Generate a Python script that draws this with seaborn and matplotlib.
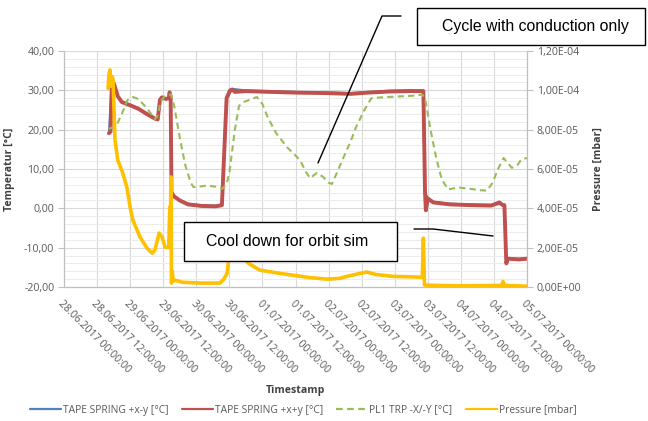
import pandas as pd
import numpy as np
import matplotlib
matplotlib.use('Agg')
import matplotlib.pyplot as plt
from matplotlib.ticker import MultipleLocator, FixedLocator
from matplotlib.patches import Rectangle
from matplotlib.lines import Line2D
import seaborn as sns

sns.set_theme(style='white')
plt.rcParams['font.family'] = ['Open Sans', 'DejaVu Sans']

# --- data (hours since 28.06.2017 00:00) ---
red_hours = [16.3, 16.9, 17.4, 18.2, 19.5, 21.0, 24.0, 27.0, 30.0, 33.0, 34.0, 34.8,
             35.5, 37.0, 38.0, 38.3, 38.7, 39.0, 40.0, 42.0, 45.0, 50.0, 55.0, 57.3,
             58.0, 59.0, 60.2, 61.0, 62.0, 66.0, 75.0, 85.0, 95.0, 104.0, 110.0, 118.0,
             125.0, 130.4, 131.0, 131.3, 132.0, 134.0, 140.0, 148.0, 155.0, 158.0, 159.0,
             159.8, 160.5, 161.0, 165.0, 168.0]
red_temp = [19.1, 19.5, 32.6, 31.5, 28.5, 27.0, 26.2, 25.3, 24.0, 22.8, 22.6, 27.5,
            28.2, 27.8, 28.0, 29.5, 28.5, 4.0, 3.0, 2.0, 1.0, 0.6, 0.5, 0.8,
            12.0, 28.0, 29.8, 30.2, 29.6, 29.8, 29.6, 29.4, 29.3, 29.1, 29.4, 29.7,
            29.8, 29.8, 4.0, -0.5, 2.5, 1.5, 1.0, 0.8, 0.7, 1.5, 0.9,
            0.8, -14.0, -12.8, -13.0, -12.8]

blue_hours = [16.3, 17.3, 18.2, 19.5, 21.0, 24.0, 27.0, 30.0, 33.0, 34.0, 34.7,
              35.5, 37.0, 38.0, 38.6, 38.9, 40.0, 42.0, 45.0, 50.0, 55.0, 57.2,
              58.0, 59.0, 60.0, 61.0, 66.0, 75.0, 85.0, 95.0, 104.0, 110.0, 118.0,
              125.0, 130.3, 130.9, 132.0, 134.0, 140.0, 148.0, 155.0, 159.0,
              159.7, 160.4, 161.0, 165.0, 168.0]
blue_temp = [19.3, 32.4, 31.3, 28.6, 27.2, 26.4, 25.5, 24.2, 23.0, 22.8, 27.8,
             28.4, 28.0, 28.2, 29.2, 4.2, 3.2, 2.2, 1.2, 0.8, 0.7, 1.0,
             12.5, 28.5, 30.2, 30.4, 30.0, 29.8, 29.6, 29.5, 29.3, 29.6, 29.9,
             30.0, 30.0, 4.2, 2.7, 1.7, 1.2, 1.0, 0.9, 1.1,
             1.0, -13.5, -12.6, -12.8, -12.6]

green_hours = [16.3, 19.0, 21.0, 23.0, 25.0, 27.0, 30.0, 33.0, 34.0, 35.0, 36.5, 38.8,
               40.0, 42.0, 44.0, 46.0, 47.0, 50.0, 52.0, 55.0, 57.5, 59.0, 60.0, 62.0,
               63.5, 65.0, 67.0, 70.0, 72.0, 74.0, 77.0, 81.0, 85.6, 88.0, 89.3, 91.8,
               94.0, 96.0, 97.2, 99.0, 101.0, 104.0, 106.0, 109.0, 111.5, 115.0, 120.0,
               126.0, 130.0, 131.0, 133.0, 135.0, 137.0, 139.3, 143.0, 147.0, 151.0,
               153.5, 155.5, 157.5, 159.5, 161.0, 162.5, 164.5, 166.0, 168.0]
green_temp = [20.2, 21.0, 24.0, 27.5, 28.3, 27.8, 25.5, 22.7, 23.5, 27.0, 28.5, 29.0,
              26.0, 18.0, 11.0, 6.5, 5.4, 5.6, 5.8, 5.5, 5.0, 6.2, 9.0, 20.0,
              26.0, 27.0, 27.5, 28.3, 26.5, 23.0, 19.1, 15.5, 12.3, 9.0, 7.7, 9.0,
              8.0, 6.5, 6.2, 9.0, 12.3, 17.0, 20.7, 25.0, 28.0, 28.2, 28.4,
              28.6, 28.9, 28.0, 20.0, 13.0, 7.5, 4.8, 5.3, 5.0, 4.6,
              4.5, 6.5, 10.0, 12.8, 11.5, 10.3, 11.0, 12.5, 12.8]

pressure_hours = [16.0, 16.3, 16.7, 17.0, 17.5, 17.8, 18.5, 19.5, 21.3, 22.8, 24.0, 25.0,
                  27.6, 30.1, 32.0, 33.0, 34.5, 35.6, 36.7, 38.0, 38.4, 38.6, 38.8, 39.0,
                  39.3, 39.6, 40.5, 43.0, 50.0, 56.6, 58.0, 59.2, 60.0, 62.0, 65.0, 67.0,
                  71.0, 78.0, 83.0, 89.0, 95.4, 100.0, 102.7, 107.0, 110.0, 113.0, 119.4,
                  125.0, 130.0, 130.4, 130.8, 135.0, 145.0, 158.8, 159.3, 159.8, 168.0]
pressure_mbar = [1.010e-4, 1.080e-4, 1.104e-4, 1.020e-4, 1.070e-4, 1.052e-4, 0.748e-4,
                 0.646e-4, 0.580e-4, 0.508e-4, 0.406e-4, 0.340e-4, 0.254e-4, 0.198e-4,
                 0.172e-4, 0.188e-4, 0.274e-4, 0.254e-4, 0.202e-4, 0.202e-4, 0.406e-4,
                 0.300e-4, 0.560e-4, 0.020e-4, 0.080e-4, 0.030e-4, 0.034e-4, 0.024e-4,
                 0.020e-4, 0.020e-4, 0.040e-4, 0.070e-4, 0.172e-4, 0.200e-4, 0.150e-4,
                 0.120e-4, 0.086e-4, 0.070e-4, 0.060e-4, 0.048e-4, 0.040e-4, 0.044e-4,
                 0.054e-4, 0.068e-4, 0.076e-4, 0.064e-4, 0.054e-4, 0.052e-4, 0.050e-4,
                 0.248e-4, 0.010e-4, 0.008e-4, 0.006e-4, 0.008e-4, 0.028e-4, 0.008e-4,
                 0.004e-4]

series_names = ['TAPE SPRING +x-y [°C]', 'TAPE SPRING +x+y [°C]',
                'PL1 TRP -X/-Y [°C]', 'Pressure [mbar]']
colors = ['#4F81BD', '#C0504D', '#9BBB59', '#FFC000']

t0 = pd.Timestamp('2017-06-28 00:00:00')


def to_time(hours):
    return t0 + pd.to_timedelta(hours, unit='h')


W, H = 648, 421
fig = plt.figure(figsize=(W / 100, H / 100), dpi=100)
ax = fig.add_axes([64 / W, 1 - 287 / H, (527 - 64) / W, (287 - 51) / H])
ax2 = ax.twinx()

line_kw = dict(estimator=None, sort=False, legend=False)
sns.lineplot(x=to_time(blue_hours), y=blue_temp, ax=ax, color=colors[0], linewidth=1.4, **line_kw)
sns.lineplot(x=to_time(red_hours), y=red_temp, ax=ax, color=colors[1], linewidth=2.8, **line_kw)
sns.lineplot(x=to_time(green_hours), y=green_temp, ax=ax, color=colors[2], linewidth=1.5,
             linestyle=(0, (3, 2)), **line_kw)
sns.lineplot(x=to_time(pressure_hours), y=pressure_mbar, ax=ax2, color=colors[3],
             linewidth=2.6, **line_kw)

# axes styling
tick_color = '#595959'
tick_fs = 7.6
xticks = pd.date_range('2017-06-28', '2017-07-05', freq='12h')
ax.set_xlim(xticks[0], xticks[-1])
ax.set_xticks(xticks)
ax.set_xticklabels([t.strftime('%d.%m.%Y %H:%M:%S') for t in xticks], rotation=-45,
                   ha='left', va='top', rotation_mode='anchor', fontsize=tick_fs, color=tick_color)

ax.set_ylim(-20, 40)
ax.yaxis.set_major_locator(MultipleLocator(10))
ax.yaxis.set_minor_locator(MultipleLocator(2))
ax.set_yticklabels([f'{v:.2f}'.replace('.', ',') for v in ax.get_yticks()],
                   fontsize=tick_fs, color=tick_color)

ax2.set_ylim(0, 1.2e-4)
p_ticks = [0, 2e-5, 4e-5, 6e-5, 8e-5, 1e-4, 1.2e-4]
ax2.yaxis.set_major_locator(FixedLocator(p_ticks))
ax2.set_yticklabels([f'{v:.2E}'.replace('.', ',') for v in p_ticks], fontsize=tick_fs,
                    color=tick_color)

ax.grid(which='major', axis='both', color='#d9d9d9', linewidth=0.8)
ax.grid(which='minor', axis='y', color='#ececec', linewidth=0.7)
ax.set_axisbelow(True)
ax2.grid(False)

for a in (ax, ax2):
    for s in a.spines.values():
        s.set_visible(False)
ax.spines['left'].set_visible(True)
ax.spines['bottom'].set_visible(True)
ax2.spines['right'].set_visible(True)
for s in (ax.spines['left'], ax.spines['bottom'], ax2.spines['right']):
    s.set_color('#bfbfbf')
    s.set_linewidth(0.9)

ax.tick_params(axis='both', which='major', length=4, color='#bfbfbf', width=0.8, pad=3)
ax.tick_params(axis='x', pad=4)
ax.tick_params(axis='y', which='minor', length=0)
ax2.tick_params(axis='y', length=4, color='#bfbfbf', width=0.8, pad=3)

ax.set_xlabel('Timestamp', fontsize=7.6, fontweight='bold', color='#404040')
ax.xaxis.set_label_coords(0.5, -0.415)
ax.set_ylabel('Temperatur [°C]', fontsize=7.6, fontweight='bold', color='#404040')
ax.yaxis.set_label_coords(-0.106, 0.5)
ax2.set_ylabel('Pressure [mbar]', fontsize=7.6, fontweight='bold', color='#404040')
ax2.yaxis.set_label_coords(1.1425, 0.5)

# legend
handles = [Line2D([], [], color=colors[0], lw=1.6),
           Line2D([], [], color=colors[1], lw=1.6),
           Line2D([], [], color=colors[2], lw=1.6, ls=(0, (3, 2))),
           Line2D([], [], color=colors[3], lw=1.6)]
leg = fig.legend(handles, series_names, loc='center', bbox_to_anchor=(0.468, 1 - 410 / H),
                 ncol=4, frameon=False, fontsize=7.4, handlelength=3.0, handletextpad=0.2,
                 columnspacing=1.3)
for t in leg.get_texts():
    t.set_color(tick_color)


# annotation boxes (figure pixel coords, y from top)
def px(x, y):
    return x / W, 1 - y / H


def add_box(x0, y0, x1, y1, text, tx, ty):
    fig.add_artist(Rectangle(px(x0, y1), (x1 - x0) / W, (y1 - y0) / H,
                             transform=fig.transFigure, facecolor='white',
                             edgecolor='black', linewidth=1.0, zorder=5))
    fig.text(*px(tx, ty), text, ha='center', va='center', fontsize=11.4,
             family='Liberation Sans', color='black', zorder=6)


def add_leader(points):
    xs = [p[0] / W for p in points]
    ys = [1 - p[1] / H for p in points]
    fig.add_artist(Line2D(xs, ys, transform=fig.transFigure, color='black',
                          linewidth=1.0, zorder=5))


add_box(417, 8, 645, 45, 'Cycle with conduction only', 535, 27)
add_leader([(401, 16), (382, 16), (318, 163)])
add_box(184, 222, 397, 261, 'Cool down for orbit sim', 287, 242)
add_leader([(414, 229), (433, 229), (493, 236)])

fig.savefig('out.png', dpi=100)
